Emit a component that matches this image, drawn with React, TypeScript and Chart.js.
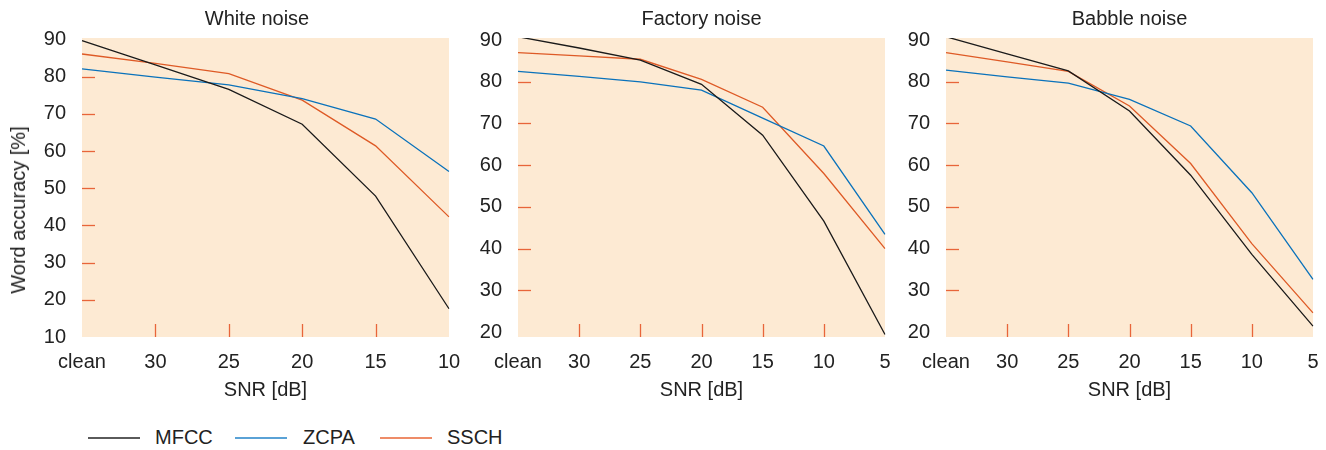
import React, { useEffect, useRef } from 'react';
import { Chart, registerables } from 'chart.js';

Chart.register(...registerables);

// ---------- data ----------
const whiteCategories = ['clean', '30', '25', '20', '15', '10'];
const factoryCategories = ['clean', '30', '25', '20', '15', '10', '5'];
const babbleCategories = ['clean', '30', '25', '20', '15', '10', '5'];

const whiteMFCC = [89.7, 83.2, 76.6, 67.2, 47.9, 17.6];
const whiteZCPA = [82.1, 79.9, 77.8, 74.1, 68.6, 54.5];
const whiteSSCH = [86.1, 83.6, 80.8, 73.7, 61.4, 42.3];

const factoryMFCC = [90.8, 88.1, 85.2, 79.4, 67.2, 46.6, 19.4];
const factoryZCPA = [82.5, 81.3, 80.0, 78.0, 71.3, 64.6, 43.4];
const factorySSCH = [87.0, 86.2, 85.4, 80.6, 73.9, 58.0, 40.0];

const babbleMFCC = [90.8, 86.7, 82.6, 73.0, 57.6, 38.6, 21.4];
const babbleZCPA = [82.8, 81.2, 79.7, 75.8, 69.4, 53.4, 32.6];
const babbleSSCH = [87.0, 84.8, 82.5, 74.2, 60.4, 41.2, 24.6];

const whiteYTicks = [10, 20, 30, 40, 50, 60, 70, 80, 90];
const factoryYTicks = [20, 30, 40, 50, 60, 70, 80, 90];
const babbleYTicks = [20, 30, 40, 50, 60, 70, 80, 90];

const seriesNames = ['MFCC', 'ZCPA', 'SSCH'];

// ---------- styles ----------
const FONT = "'Liberation Sans', Arial, Helvetica, sans-serif";
const TEXT = '#222222';
const BG = '#FDEAD3';
const TICK = '#E8653A';
const COLORS = ['#1a1a1a', '#0a72bb', '#DE5A26'];
const LEGEND_COLORS = ['#5a5a5a', '#5aa2d6', '#ee8c68'];
const CANVAS_H = 410;

const innerPlugin = {
  id: 'innerPlugin',
  beforeDraw(chart: any) {
    const { ctx, chartArea } = chart;
    ctx.save();
    ctx.fillStyle = BG;
    ctx.fillRect(chartArea.left, chartArea.top, chartArea.right - chartArea.left, chartArea.bottom - chartArea.top);
    ctx.restore();
  },
  beforeDatasetsDraw(chart: any) {
    const { ctx, chartArea, scales } = chart;
    ctx.save();
    ctx.strokeStyle = TICK;
    ctx.lineWidth = 1.3;
    const ys = scales.y;
    const yt = ys.ticks;
    for (let i = 1; i < yt.length - 1; i++) {
      const py = Math.round(ys.getPixelForValue(yt[i].value)) + 0.5;
      ctx.beginPath();
      ctx.moveTo(chartArea.left, py);
      ctx.lineTo(chartArea.left + 13, py);
      ctx.stroke();
    }
    const xs = scales.x;
    const n = xs.ticks.length;
    for (let i = 1; i < n - 1; i++) {
      const px = Math.round(xs.getPixelForTick(i)) + 0.5;
      ctx.beginPath();
      ctx.moveTo(px, chartArea.bottom);
      ctx.lineTo(px, chartArea.bottom - 13);
      ctx.stroke();
    }
    ctx.restore();
  },
};

type PanelCfg = {
  title: string;
  categories: string[];
  series: number[][];
  yTicks: number[];
  yMin: number;
  yMax: number;
  left: number;
  width: number;
  yWidth: number;
  rightWidth: number;
  fullSize: boolean;
};

const panels: PanelCfg[] = [
  {
    title: 'White noise', categories: whiteCategories, series: [whiteMFCC, whiteZCPA, whiteSSCH],
    yTicks: whiteYTicks, yMin: 10, yMax: 90.4, left: 0, width: 514, yWidth: 82, rightWidth: 65, fullSize: true,
  },
  {
    title: 'Factory noise', categories: factoryCategories, series: [factoryMFCC, factoryZCPA, factorySSCH],
    yTicks: factoryYTicks, yMin: 18.8, yMax: 90.5, left: 460, width: 434, yWidth: 58, rightWidth: 9, fullSize: false,
  },
  {
    title: 'Babble noise', categories: babbleCategories, series: [babbleMFCC, babbleZCPA, babbleSSCH],
    yTicks: babbleYTicks, yMin: 18.8, yMax: 90.5, left: 900, width: 420, yWidth: 46, rightWidth: 7, fullSize: false,
  },
];

function Panel({ cfg }: { cfg: PanelCfg }) {
  const ref = useRef<HTMLCanvasElement>(null);
  useEffect(() => {
    const font = { family: FONT, size: 20, weight: 'normal' as const };
    const chart = new Chart(ref.current as HTMLCanvasElement, {
      type: 'line',
      data: {
        labels: cfg.categories,
        datasets: cfg.series.map((s, i) => ({
          label: seriesNames[i],
          data: s,
          borderColor: COLORS[i],
          backgroundColor: COLORS[i],
          borderWidth: 1.3,
          pointRadius: 0,
          tension: 0,
          fill: false,
          yAxisID: 'y',
        })),
      },
      options: {
        animation: false,
        responsive: false,
        devicePixelRatio: 1,
        layout: { padding: 0 },
        plugins: {
          legend: { display: false },
          tooltip: { enabled: false },
          title: {
            display: true,
            text: cfg.title,
            color: TEXT,
            font,
            fullSize: cfg.fullSize,
            padding: { top: 7, bottom: 7 },
          },
        },
        scales: {
          x: {
            type: 'category',
            offset: false,
            grid: { display: false, drawTicks: false },
            border: { display: false },
            ticks: { color: TEXT, font, padding: 13, maxRotation: 0, autoSkip: false },
            title: { display: true, text: 'SNR [dB]', color: TEXT, font, padding: { top: 0, bottom: 8 } },
            afterFit(scale: any) {
              scale.height = CANVAS_H - 337;
              scale.paddingLeft = 0;
              scale.paddingRight = 0;
            },
          },
          y: {
            type: 'linear',
            position: 'left',
            min: cfg.yMin,
            max: cfg.yMax,
            grid: { display: false, drawTicks: false },
            border: { display: false },
            ticks: { color: TEXT, font, padding: 16 },
            afterBuildTicks(scale: any) {
              scale.ticks = cfg.yTicks.map((v) => ({ value: v }));
            },
            afterFit(scale: any) {
              scale.width = cfg.yWidth;
            },
          },
          spacer: {
            type: 'linear',
            position: 'right',
            display: true,
            grid: { display: false, drawTicks: false },
            border: { display: false },
            ticks: { display: false },
            afterFit(scale: any) {
              scale.width = cfg.rightWidth;
            },
          },
        },
      },
      plugins: [innerPlugin],
    });
    return () => chart.destroy();
  }, []);
  return (
    <canvas
      ref={ref}
      width={cfg.width}
      height={CANVAS_H}
      style={{ position: 'absolute', left: cfg.left, top: 0, width: cfg.width, height: CANVAS_H }}
    />
  );
}

const legendItems = [
  { lineLeft: 88, textLeft: 155 },
  { lineLeft: 235, textLeft: 303 },
  { lineLeft: 380, textLeft: 447 },
];

export default function App() {
  return (
    <div style={{ position: 'absolute', left: 0, top: 0, width: 1326, height: 450, background: '#ffffff', overflow: 'hidden' }}>
      {panels.map((p, i) => (
        <Panel key={i} cfg={p} />
      ))}
      <div
        style={{
          position: 'absolute',
          left: 18,
          top: 210,
          transform: 'translate(-50%, -50%) rotate(-90deg)',
          whiteSpace: 'nowrap',
          fontFamily: FONT,
          fontSize: 20,
          color: TEXT,
          lineHeight: '24px',
        }}
      >
        Word accuracy [%]
      </div>
      {legendItems.map((it, i) => (
        <React.Fragment key={i}>
          <div
            style={{
              position: 'absolute',
              left: it.lineLeft,
              top: 437,
              width: 52,
              height: 1.5,
              background: LEGEND_COLORS[i],
            }}
          />
          <div
            style={{
              position: 'absolute',
              left: it.textLeft,
              top: 425,
              fontFamily: FONT,
              fontSize: 20,
              lineHeight: '24px',
              color: TEXT,
              whiteSpace: 'nowrap',
            }}
          >
            {seriesNames[i]}
          </div>
        </React.Fragment>
      ))}
    </div>
  );
}
